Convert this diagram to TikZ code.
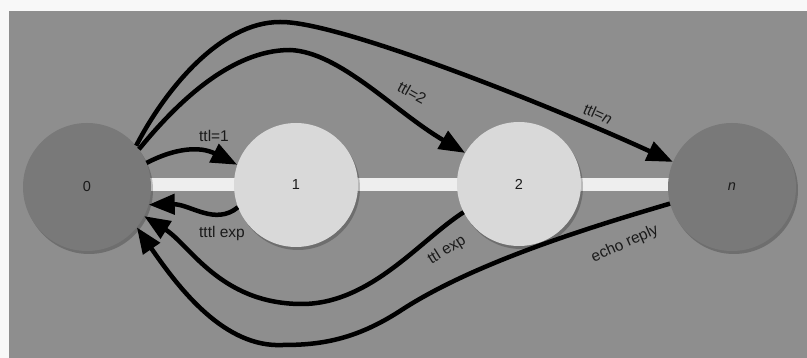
\documentclass[tikz,border=0pt]{standalone}
\usepackage{fontspec}
\setmainfont{Liberation Sans}
\usetikzlibrary{arrows.meta,shadows}
\definecolor{pagebg}{HTML}{F8F8F8}
\definecolor{panel}{HTML}{8E8E8E}
\definecolor{darknode}{HTML}{797979}
\definecolor{lightnode}{HTML}{D9D9D9}
\definecolor{barcol}{HTML}{EEEEEE}
\definecolor{txt}{HTML}{1A1A1A}
\tikzset{
  hostnode/.style={circle, minimum size=124pt, inner sep=0pt, text=txt,
    font=\fontsize{14.5}{16}\selectfont,
    drop shadow={shadow xshift=2pt, shadow yshift=-3pt, fill=black, opacity=0.22}},
  endhost/.style={hostnode, fill=darknode, minimum size=128pt},
  midhost/.style={hostnode, fill=lightnode},
  arr/.style={line width=4.5pt, black, -{Triangle[length=26pt,width=20pt]}},
  lbl/.style={text=txt, font=\fontsize{15.5}{17}\selectfont, inner sep=0pt}
}
\begin{document}
\begin{tikzpicture}[x=1pt,y=-1pt]
\useasboundingbox (0,0) rectangle (807,358);
\fill[pagebg] (0,0) rectangle (807,358);
\fill[panel] (9,11) rectangle (807,358);
% bar
\fill[barcol] (87,178.5) rectangle (732,191);
% nodes
\node[endhost] (n0) at (87,187) {0};
\node[midhost] (n1) at (296,185) {1};
\node[midhost] (n2) at (519,184) {2};
\node[endhost] (nn) at (732,187) {\itshape n};
% forward arrows
\draw[arr] (n0.22) .. controls (175,148) and (200,146) .. (n1.161);
\draw[arr] (n0.36) .. controls (175,105) and (230,50) .. (290,50)
  .. controls (340,52) and (395,112) .. (n2.150);
\draw[arr] (n0.40) .. controls (165,90) and (220,22) .. (280,22)
  .. controls (340,21) and (560,110) .. (nn.157);
% backward arrows
\draw[arr] (n1.201) .. controls (215,226) and (190,204) .. (n0.344);
\draw[arr] (n2.207) .. controls (420,240) and (370,305) .. (300,304)
  .. controls (220,303) and (190,245) .. (n0.333);
\draw[arr] (nn.195) .. controls (580,230) and (470,265) .. (400,311)
  .. controls (355,340) and (320,345) .. (283,345)
  .. controls (225,348) and (180,290) .. (n0.321);
% labels
\node[lbl] (l1) at (214,136) {ttl=1};
\node[lbl, rotate=-29] (l2) at (412,93) {ttl=2};
\node[lbl, rotate=-24] (l3) at (598,114) {ttl=\textit{n}};
\node[lbl] (l4) at (222,233) {tttl exp};
\node[lbl, rotate=32] (l5) at (447,250) {ttl exp};
\node[lbl, rotate=24] (l6) at (625,244) {echo reply};
\end{tikzpicture}
\end{document}
